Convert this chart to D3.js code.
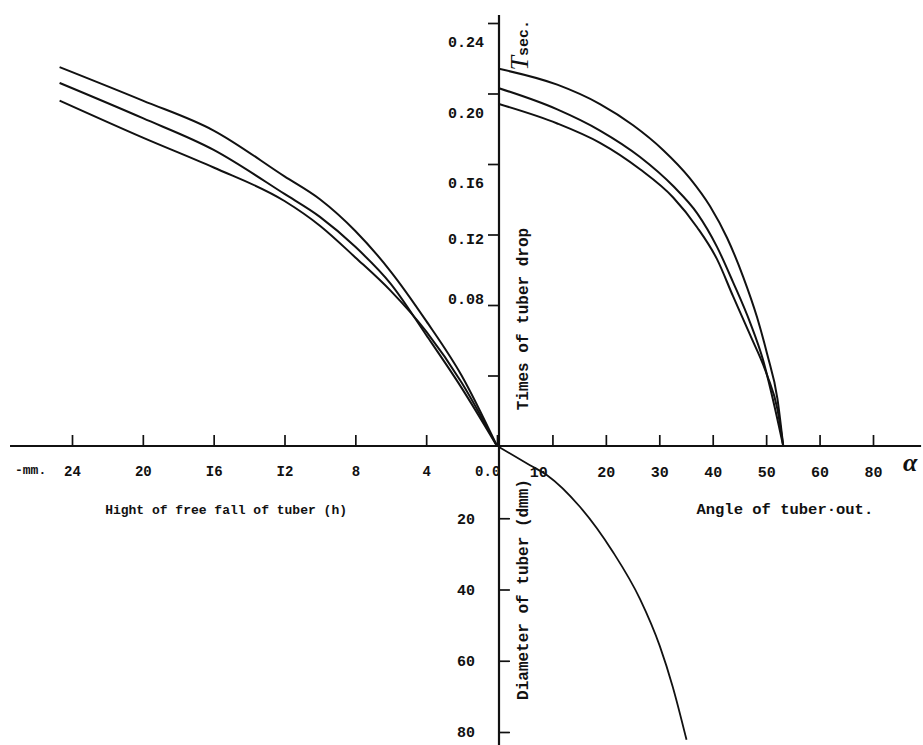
<!DOCTYPE html>
<html>
<head>
<meta charset="utf-8">
<script src="https://cdn.jsdelivr.net/npm/d3@7"></script>
<style>
	body { margin: 0; background: #fff; }
	svg text { font-family: "Liberation Mono", "DejaVu Sans Mono", monospace; font-weight: bold; fill: #111; }
</style>
</head>
<body>
<svg id="chart" width="923" height="745"></svg>
<script>

// tick values and the typewritten labels printed next to them
var heightTicks = [0, 4, 8, 12, 16, 20, 24];
var heightTickLabels = ['0.0', '4', '8', 'I2', 'I6', '20', '24'];

var angleTicks = [10, 20, 30, 40, 50, 60, 70];
var angleTickLabels = ['10', '20', '30', '40', '50', '60', '80'];

var timeTicks = [0.04, 0.08, 0.12, 0.16, 0.20, 0.24];
var timeTickLabels = ['', '0.08', '0.I2', '0.I6', '0.20', '0.24'];

var diameterTicks = [20, 40, 60, 80];
var diameterTickLabels = ['20', '40', '60', '80'];

// time of drop vs hight of free fall  [h mm, sec]
var fallUpper = [[24.7, 0.215], [20, 0.196], [16, 0.179], [12, 0.153], [10, 0.140], [8, 0.122],
	[6, 0.099], [4, 0.071], [2, 0.040], [0, 0]];
var fallMiddle = [[24.7, 0.206], [20, 0.186], [16, 0.168], [12, 0.143], [10, 0.130], [8, 0.113],
	[6, 0.092], [4, 0.063], [2, 0.033], [0, 0]];
var fallLower = [[24.7, 0.196], [20, 0.175], [16, 0.158], [12, 0.139], [10, 0.125], [8, 0.107],
	[6, 0.088], [4, 0.065], [2, 0.036], [0, 0]];

// time of drop vs angle of tuber out  [deg, sec]
var angleUpper = [[0, 0.214], [10.9, 0.205], [18.9, 0.194], [25.1, 0.182], [30.7, 0.168], [35.7, 0.152],
	[39.5, 0.136], [42.7, 0.118], [45.7, 0.096], [48.3, 0.073], [50.2, 0.052], [52.1, 0.027], [53.2, 0]];
var angleMiddle = [[0, 0.203], [10.9, 0.191], [18.9, 0.179], [26.4, 0.164], [32.6, 0.1475], [37.1, 0.132],
	[40.8, 0.113], [43.8, 0.093], [47.0, 0.070], [49.4, 0.049], [51.3, 0.026], [53.2, 0]];
var angleLower = [[0, 0.194], [10.9, 0.183], [18.9, 0.172], [26.4, 0.157], [32.6, 0.141], [37.1, 0.124],
	[40.8, 0.106], [43.8, 0.085], [47.0, 0.063], [50.2, 0.040], [52.1, 0.021], [53.2, 0]];

// diameter of tuber vs angle  [deg, dmm]
var diameterCurve = [[0, 0], [5.8, 5.1], [9.0, 7.9], [15.1, 16.7], [21.3, 29.4], [26.4, 42.7],
	[30.1, 55.9], [32.5, 67.2], [35.1, 82.2]];


var svg = d3.select('#chart');

// four quadrants share the origin
var hScale = d3.scaleLinear().domain([0, 24]).range([497, 72]);
var aScale = d3.scaleLinear().domain([0, 70]).range([499, 873]);
var tScale = d3.scaleLinear().domain([0, 0.24]).range([446, 23]);
var dScale = d3.scaleLinear().domain([0, 80]).range([447, 732]);

var originX = aScale(0);
var originY = tScale(0);


function labelFrom(ticks, labels) {
	return function(d) {
		return labels[ticks.indexOf(d)];
	};
}


function drawAxes() {

	// the main cross
	svg.append('line')
		.attr('x1', hScale(27.5)).attr('x2', aScale(79))
		.attr('y1', originY).attr('y2', originY)
		.attr('stroke', '#111').attr('stroke-width', 2.2);

	svg.append('line')
		.attr('x1', originX).attr('x2', originX)
		.attr('y1', tScale(0.2445)).attr('y2', dScale(84))
		.attr('stroke', '#111').attr('stroke-width', 2.2);

	var hAxis = svg.append('g')
		.attr('transform', 'translate(0,' + originY + ')')
		.call(d3.axisBottom(hScale).tickValues(heightTicks).tickSize(-11).tickPadding(20)
			.tickFormat(labelFrom(heightTicks, heightTickLabels)));

	var aAxis = svg.append('g')
		.attr('transform', 'translate(0,' + originY + ')')
		.call(d3.axisBottom(aScale).tickValues(angleTicks).tickSize(-11).tickPadding(20)
			.tickFormat(labelFrom(angleTicks, angleTickLabels)));

	var tAxis = svg.append('g')
		.attr('transform', 'translate(' + originX + ',0)')
		.call(d3.axisLeft(tScale).tickValues(timeTicks).tickSize(11).tickPadding(4)
			.tickFormat(labelFrom(timeTicks, timeTickLabels)));

	var dAxis = svg.append('g')
		.attr('transform', 'translate(' + originX + ',0)')
		.call(d3.axisLeft(dScale).tickValues(diameterTicks).tickSize(-11).tickPadding(24)
			.tickFormat(labelFrom(diameterTicks, diameterTickLabels)));

	[hAxis, aAxis, tAxis, dAxis].forEach(function(ax) {
		ax.select('.domain').remove();
		ax.selectAll('.tick line').attr('stroke', '#111').attr('stroke-width', 1.7);
		ax.selectAll('.tick text').style('font-size', '15px');
	});
	hAxis.selectAll('.tick text').style('font-size', '14px');

	// the typed labels are not quite level with their ticks
	tAxis.selectAll('.tick text').attr('y', function(d) {
		if (d >= 0.16) { return 19; }
		if (d >= 0.12) { return 4; }
		return -6;
	});
	hAxis.selectAll('.tick text').filter(function(d) { return d === 0; }).attr('dx', '-0.7em');
	aAxis.selectAll('.tick text').filter(function(d) { return d === 10; }).attr('dx', '-0.95em');
}


function drawCurves() {

	var fallLine = d3.line()
		.x(function(d) { return hScale(d[0]); })
		.y(function(d) { return tScale(d[1]); })
		.curve(d3.curveMonotoneX);

	var angleLine = d3.line()
		.x(function(d) { return aScale(d[0]); })
		.y(function(d) { return tScale(d[1]); })
		.curve(d3.curveMonotoneX);

	var diameterLine = d3.line()
		.x(function(d) { return aScale(d[0]); })
		.y(function(d) { return dScale(d[1]); })
		.curve(d3.curveMonotoneX);

	[fallUpper, fallMiddle, fallLower].forEach(function(s) {
		svg.append('path').datum(s).attr('d', fallLine)
			.attr('fill', 'none').attr('stroke', '#111').attr('stroke-width', 2);
	});

	[angleUpper, angleMiddle, angleLower].forEach(function(s) {
		svg.append('path').datum(s).attr('d', angleLine)
			.attr('fill', 'none').attr('stroke', '#111').attr('stroke-width', 2);
	});

	svg.append('path').datum(diameterCurve).attr('d', diameterLine)
		.attr('fill', 'none').attr('stroke', '#111').attr('stroke-width', 1.8);
}


function drawTitles() {

	svg.append('text')
		.attr('x', 15).attr('y', originY + 28)
		.style('font-size', '13px')
		.text('-mm.');

	svg.append('text')
		.attr('x', hScale(15.3)).attr('y', originY + 68)
		.attr('text-anchor', 'middle')
		.style('font-size', '13px')
		.text('Hight of free fall of tuber (h)');

	svg.append('text')
		.attr('x', aScale(53.5)).attr('y', originY + 68)
		.attr('text-anchor', 'middle')
		.style('font-size', '15.5px')
		.text('Angle of tuber\u00b7out.');

	svg.append('text')
		.attr('x', aScale(75.6)).attr('y', originY + 25)
		.style('font-family', '"Liberation Serif", serif')
		.style('font-style', 'italic')
		.style('font-size', '26px')
		.text('\u03b1');

	// rotated labels next to the vertical axis
	svg.append('text')
		.attr('transform', 'translate(' + (originX + 29) + ',' + tScale(0.072) + ') rotate(-90)')
		.attr('text-anchor', 'middle')
		.style('font-size', '16px')
		.text('Times of tuber drop');

	svg.append('text')
		.attr('transform', 'translate(' + (originX + 29) + ',' + dScale(40) + ') rotate(-90)')
		.attr('text-anchor', 'middle')
		.style('font-size', '16px')
		.text('Diameter of tuber (dmm)');

	var sec = svg.append('text')
		.attr('transform', 'translate(' + (originX + 29) + ',' + tScale(0.213) + ') rotate(-90)')
		.style('font-size', '15px');
	sec.append('tspan')
		.style('font-family', '"Liberation Serif", serif')
		.style('font-style', 'italic')
		.style('font-weight', 'normal')
		.style('font-size', '26px')
		.text('T');
	sec.append('tspan').text('sec.');
}


drawAxes();
drawCurves();
drawTitles();

</script>
</body>
</html>
